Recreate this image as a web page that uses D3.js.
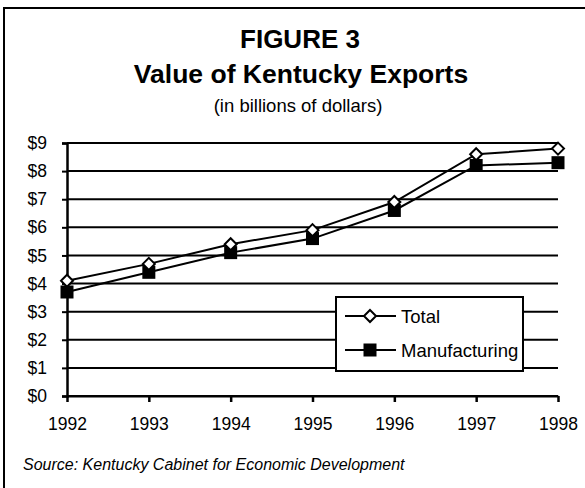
<!DOCTYPE html>
<html>
<head>
<meta charset="utf-8">
<script src="https://cdn.jsdelivr.net/npm/d3@7"></script>
<style>
  html, body { margin: 0; padding: 0; background: #fff; }
  svg { display: block; font-family: "Liberation Sans", Arial, sans-serif; }
</style>
</head>
<body>
<svg id="chart" width="585" height="488"></svg>
<script>
// Kentucky export values, billions of dollars
const years = [1992, 1993, 1994, 1995, 1996, 1997, 1998];
const totalExports = [4.1, 4.7, 5.4, 5.9, 6.9, 8.6, 8.8];
const manufacturingExports = [3.7, 4.4, 5.1, 5.6, 6.6, 8.2, 8.3];
const yTicks = [0, 1, 2, 3, 4, 5, 6, 7, 8, 9];
const seriesNames = ["Total", "Manufacturing"];

const FONT = "'Liberation Sans', Arial, sans-serif";
const svg = d3.select("#chart");

// Outer frame (runs off the right and bottom edges)
svg.append("rect")
  .attr("x", 4).attr("y", 8)
  .attr("width", 640).attr("height", 540)
  .attr("fill", "#fff").attr("stroke", "#000").attr("stroke-width", 2);

// Titles
svg.append("text").attr("x", 300).attr("y", 48)
  .attr("text-anchor", "middle").attr("font-size", 26).attr("font-weight", "bold")
  .text("FIGURE 3");
svg.append("text").attr("x", 301).attr("y", 83)
  .attr("text-anchor", "middle").attr("font-size", 26.5).attr("font-weight", "bold")
  .text("Value of Kentucky Exports");
svg.append("text").attr("x", 298).attr("y", 112)
  .attr("text-anchor", "middle").attr("font-size", 18.5)
  .text("(in billions of dollars)");

const x = d3.scalePoint().domain(years).range([67, 558]);
const y = d3.scaleLinear().domain([0, 9]).range([396, 143]);

// Horizontal gridlines
svg.append("g").selectAll("line").data(yTicks).join("line")
  .attr("x1", 67).attr("x2", 558)
  .attr("y1", d => y(d)).attr("y2", d => y(d))
  .attr("stroke", "#000").attr("stroke-width", 2);

// Y axis
const yAxis = svg.append("g").attr("transform", "translate(67,0)")
  .call(d3.axisLeft(y).tickValues(yTicks).tickSize(5).tickPadding(15)
    .tickFormat(d => "$" + d));
yAxis.select(".domain").attr("stroke-width", 2.5);
yAxis.selectAll(".tick line").attr("stroke-width", 2);
yAxis.selectAll("text").attr("font-size", 17.5).attr("fill", "#000")
  .attr("font-family", FONT);

// X axis
const xAxis = svg.append("g").attr("transform", "translate(0,396)")
  .call(d3.axisBottom(x).tickSize(6).tickSizeOuter(0));
xAxis.select(".domain").attr("stroke-width", 2);
xAxis.selectAll(".tick line").attr("stroke-width", 2.5);
xAxis.selectAll("text").attr("font-size", 17.5).attr("fill", "#000")
  .attr("font-family", FONT).attr("dy", null).attr("y", 34);

const line = d3.line().x((d, i) => x(years[i])).y(d => y(d));

// Manufacturing series: solid squares
svg.append("path").datum(manufacturingExports)
  .attr("d", line).attr("fill", "none").attr("stroke", "#000").attr("stroke-width", 2);
svg.append("g").selectAll("rect").data(manufacturingExports).join("rect")
  .attr("x", (d, i) => x(years[i]) - 6.5).attr("y", d => y(d) - 6.5)
  .attr("width", 13).attr("height", 13).attr("fill", "#000");

// Total series: open diamonds
svg.append("path").datum(totalExports)
  .attr("d", line).attr("fill", "none").attr("stroke", "#000").attr("stroke-width", 2);
const diamond = "M0,-6L6,0L0,6L-6,0Z";
svg.append("g").selectAll("path").data(totalExports).join("path")
  .attr("d", diamond)
  .attr("transform", (d, i) => `translate(${x(years[i])},${y(d)})`)
  .attr("fill", "#fff").attr("stroke", "#000").attr("stroke-width", 2);

// Legend
const legend = svg.append("g");
legend.append("rect").attr("x", 336).attr("y", 297).attr("width", 187).attr("height", 74)
  .attr("fill", "#fff").attr("stroke", "#000").attr("stroke-width", 2);
const rows = legend.selectAll("g.row").data(seriesNames).join("g")
  .attr("class", "row")
  .attr("transform", (d, i) => `translate(0,${i === 0 ? 316 : 350})`);
rows.append("line").attr("x1", 345).attr("x2", 396).attr("y1", 0).attr("y2", 0)
  .attr("stroke", "#000").attr("stroke-width", 2);
rows.each(function(d, i) {
  const g = d3.select(this);
  if (i === 0) {
    g.append("path").attr("d", diamond).attr("transform", "translate(370,0)")
      .attr("fill", "#fff").attr("stroke", "#000").attr("stroke-width", 2);
  } else {
    g.append("rect").attr("x", 363.5).attr("y", -6.5).attr("width", 13).attr("height", 13)
      .attr("fill", "#000");
  }
});
rows.append("text").attr("x", 401).attr("y", 6.5).attr("font-size", 18.5)
  .text(d => d);

// Source note
svg.append("text").attr("x", 23).attr("y", 470)
  .attr("font-size", 16).attr("font-style", "italic")
  .text("Source:  Kentucky Cabinet for Economic Development");
</script>
</body>
</html>
